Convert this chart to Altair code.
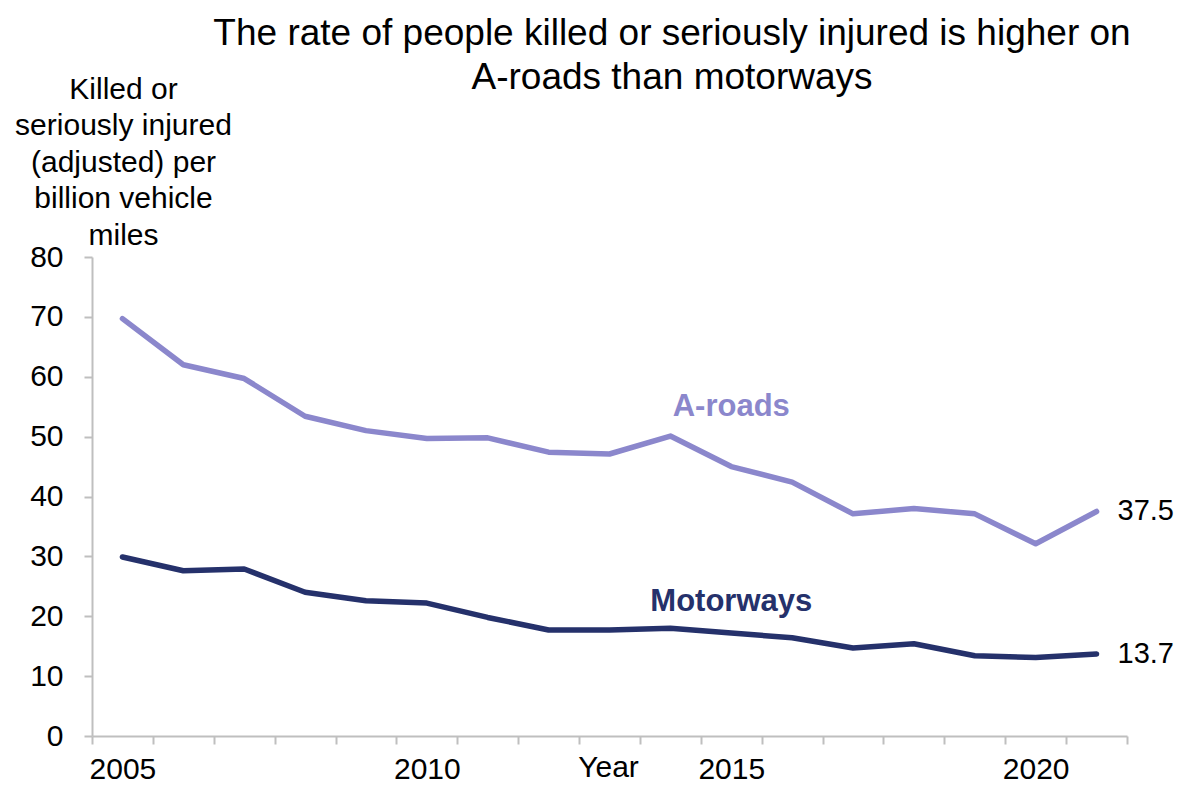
import altair as alt
import pandas as pd

years = list(range(2005, 2022))
a_roads = [69.7, 62.0, 59.7, 53.4, 51.0, 49.7, 49.8, 47.4, 47.1, 50.1, 45.0, 42.4, 37.1, 38.0, 37.1, 32.1, 37.5]
motorways = [29.9, 27.6, 27.9, 24.0, 22.6, 22.2, 19.8, 17.7, 17.7, 18.0, 17.2, 16.4, 14.7, 15.4, 13.4, 13.1, 13.7]
series_names = ["A-roads", "Motorways"]
series_colors = ["#8B87CC", "#25316B"]
label_year = [2015, 2015]
label_value = [55.0, 22.3]
x_label_years = [2005, 2010, 2015, 2020]
title_lines = ["The rate of people killed or seriously injured is higher on", "A-roads than motorways"]
y_title = ["Killed or", "seriously injured", "(adjusted) per", "billion vehicle", "miles"]

FONT = "Liberation Sans"

rows = []
for y, a, m in zip(years, a_roads, motorways):
    rows.append({"year": y, "series": "A-roads", "value": a})
    rows.append({"year": y, "series": "Motorways", "value": m})
df = pd.DataFrame(rows)
lab_df = pd.DataFrame({"series": series_names, "year": label_year, "value": label_value})
end_df = df[df["year"] == years[-1]].copy()
end_df["txt"] = end_df["value"].map(lambda v: f"{v:.1f}")

W, H = 1035, 479
step = W / (years[-1] - years[0] + 1)

xscale = alt.Scale(domain=[years[0] - 0.5, years[-1] + 0.5], nice=False, zero=False)
yscale = alt.Scale(domain=[0, 80], nice=False)
color = alt.Scale(domain=series_names, range=series_colors)

tick_vals = [years[0] - 0.5 + i for i in range(len(years) + 1)]
lab_pos = [v - 0.5 for v in x_label_years]
label_expr = "indexof([" + ",".join(str(v) for v in lab_pos) + "], datum.value) >= 0 ? format(datum.value + 0.5, 'd') : ''"

x_axis = alt.Axis(
    values=tick_vals, labelExpr=label_expr, labelOffset=step / 2, labelOverlap=False,
    labelBound=False, labelFlush=False, grid=False, tickSize=8, tickColor="#BFBFBF",
    tickWidth=2, domainColor="#BFBFBF", domainWidth=2, labelFontSize=30, labelFont=FONT,
    labelColor="black", labelPadding=10, labelBaseline="top", labelAlign="center",
    title="Year", titleFontSize=30, titleFont=FONT, titleFontWeight="normal",
    titleColor="black", titleX=516, titleY=40, titleBaseline="alphabetic", titleAlign="center",
)
y_axis = alt.Axis(
    values=list(range(0, 81, 10)), grid=False, tickSize=8, tickColor="#BFBFBF", tickWidth=2,
    domainColor="#BFBFBF", domainWidth=2, labelFontSize=30, labelFont=FONT, labelColor="black",
    labelPadding=21, title=y_title, titleAngle=0, titleX=31, titleY=-183, titleAlign="center",
    titleBaseline="top", titleFontSize=30, titleFont=FONT, titleFontWeight="normal",
    titleColor="black", titleLineHeight=36.5,
)

lines = alt.Chart(df).mark_line(strokeWidth=5.5, strokeCap="round", strokeJoin="round").encode(
    x=alt.X("year:Q", scale=xscale, axis=x_axis),
    y=alt.Y("value:Q", scale=yscale, axis=y_axis),
    color=alt.Color("series:N", scale=color, legend=None),
)

names = alt.Chart(lab_df).mark_text(fontSize=31, fontWeight="bold", font=FONT, align="center", baseline="middle").encode(
    x=alt.X("year:Q", scale=xscale),
    y=alt.Y("value:Q", scale=yscale),
    text="series:N",
    color=alt.Color("series:N", scale=color, legend=None),
)

ends = alt.Chart(end_df).mark_text(fontSize=29, font=FONT, align="left", baseline="middle", dx=21, color="black").encode(
    x=alt.X("year:Q", scale=xscale),
    y=alt.Y("value:Q", scale=yscale),
    text="txt:N",
)

title = alt.Chart(pd.DataFrame({"t": ["\n".join(title_lines)]})).mark_text(
    fontSize=37, font=FONT, align="center", baseline="alphabetic", lineBreak="\n", lineHeight=43.5, color="black"
).encode(x=alt.value(580), y=alt.value(-212), text="t:N")

chart = alt.layer(lines, names, ends, title).properties(
    width=W, height=H,
    background="white",
    autosize=alt.AutoSizeParams(type="none"),
    padding={"left": 84, "top": 249, "right": 50, "bottom": 47},
).configure_view(stroke=None)

chart.save("out.html", embed_options={"renderer": "svg", "actions": False})
